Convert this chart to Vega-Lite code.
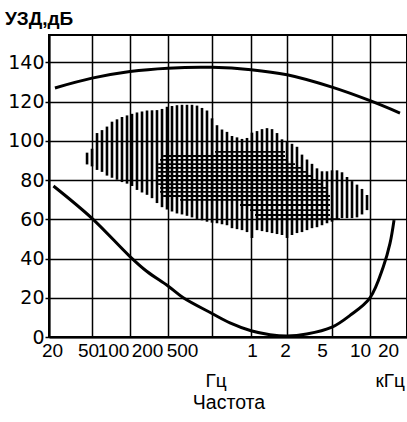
{
  "$schema": "https://vega.github.io/schema/vega-lite/v6.json",
  "autosize": {"type": "none"},
  "padding": {"left": 49, "top": 35, "right": 0, "bottom": 85},
  "width": 358,
  "height": 302,
  "title": {"text": "УЗД,дБ", "anchor": "start", "frame": "group", "dx": -44, "offset": 6, "fontSize": 19, "fontWeight": "bold", "color": "black", "font": "Liberation Sans"},
  "datasets": {
    "music": [
      {"f": 45, "lo": 88, "hi": 94}, {"f": 50, "lo": 87, "hi": 96}, {"f": 54.8, "lo": 85.2, "hi": 104},
      {"f": 60, "lo": 84.2, "hi": 105.5}, {"f": 65.7, "lo": 82.3, "hi": 107.3}, {"f": 72, "lo": 81.2, "hi": 109.8},
      {"f": 78.9, "lo": 80.2, "hi": 111}, {"f": 86.4, "lo": 79, "hi": 112.2}, {"f": 94.7, "lo": 78.2, "hi": 113},
      {"f": 103.7, "lo": 77, "hi": 113.8}, {"f": 113.6, "lo": 75, "hi": 114.5}, {"f": 124.5, "lo": 73.7, "hi": 115},
      {"f": 136.4, "lo": 72.5, "hi": 115.5}, {"f": 149.4, "lo": 70.8, "hi": 115.6}, {"f": 163.6, "lo": 68.3, "hi": 115.7},
      {"f": 179.3, "lo": 66.2, "hi": 116.3}, {"f": 196.4, "lo": 65, "hi": 117.4}, {"f": 217.4, "lo": 64, "hi": 117.8},
      {"f": 241.1, "lo": 63, "hi": 118.2}, {"f": 267.7, "lo": 62.5, "hi": 118.4}, {"f": 297, "lo": 61.8, "hi": 118.4},
      {"f": 329.7, "lo": 61, "hi": 118.4}, {"f": 365.9, "lo": 60.2, "hi": 118}, {"f": 406, "lo": 59.5, "hi": 116.8},
      {"f": 450.5, "lo": 58.8, "hi": 115.5}, {"f": 500, "lo": 58.3, "hi": 111.5}, {"f": 546.4, "lo": 58, "hi": 108},
      {"f": 597.2, "lo": 57.5, "hi": 105.8}, {"f": 652.6, "lo": 57, "hi": 104.6}, {"f": 713.3, "lo": 55.5, "hi": 102.5},
      {"f": 779.8, "lo": 55, "hi": 101.8}, {"f": 852.2, "lo": 54.5, "hi": 101}, {"f": 931.5, "lo": 53.5, "hi": 101.5},
      {"f": 1019, "lo": 50.5, "hi": 104.2}, {"f": 1123, "lo": 54.5, "hi": 105}, {"f": 1236, "lo": 54, "hi": 106},
      {"f": 1361, "lo": 53.5, "hi": 106.5}, {"f": 1499, "lo": 53, "hi": 106}, {"f": 1650, "lo": 52.5, "hi": 104},
      {"f": 1816, "lo": 52, "hi": 100.8}, {"f": 2000, "lo": 50.5, "hi": 99.5}, {"f": 2214, "lo": 52, "hi": 98.5},
      {"f": 2451, "lo": 53, "hi": 97}, {"f": 2714, "lo": 53.5, "hi": 93}, {"f": 3005, "lo": 54.5, "hi": 90.5},
      {"f": 3327, "lo": 55.5, "hi": 88.3}, {"f": 3683, "lo": 56, "hi": 86}, {"f": 4079, "lo": 57, "hi": 84.5},
      {"f": 4515, "lo": 58, "hi": 84.5}, {"f": 5000, "lo": 58.8, "hi": 85}, {"f": 5478, "lo": 59.7, "hi": 85},
      {"f": 6001, "lo": 60.6, "hi": 84}, {"f": 6575, "lo": 60.6, "hi": 81.6}, {"f": 7203, "lo": 60.6, "hi": 79.5},
      {"f": 7888, "lo": 61, "hi": 77.7}, {"f": 8643, "lo": 62.5, "hi": 75.5}, {"f": 9469, "lo": 64.7, "hi": 72.4}
    ],
    "speech": [
      {"db": 94.4, "f0": 527, "f1": 1925}, {"db": 92.3, "f0": 183, "f1": 1925}, {"db": 90.3, "f0": 173, "f1": 2041},
      {"db": 88.2, "f0": 167, "f1": 2354}, {"db": 86.2, "f0": 167, "f1": 2714}, {"db": 84.2, "f0": 164, "f1": 3067},
      {"db": 82.1, "f0": 164, "f1": 3396}, {"db": 80.1, "f0": 164, "f1": 3759}, {"db": 78.0, "f0": 167, "f1": 4079},
      {"db": 76.0, "f0": 173, "f1": 4424}, {"db": 74.0, "f0": 173, "f1": 4609}, {"db": 71.9, "f0": 183, "f1": 4800},
      {"db": 69.9, "f0": 257, "f1": 4800}, {"db": 67.3, "f0": 822, "f1": 4800}, {"db": 64.7, "f0": 983, "f1": 4800},
      {"db": 62.2, "f0": 1080, "f1": 4800}, {"db": 60.1, "f0": 1123, "f1": 5785}
    ],
    "curves": [
      {"curve": "pain", "f": 22.7, "db": 127}, {"curve": "pain", "f": 50, "db": 132}, {"curve": "pain", "f": 100, "db": 135.4},
      {"curve": "pain", "f": 200, "db": 137.1}, {"curve": "pain", "f": 500, "db": 137.5}, {"curve": "pain", "f": 1000, "db": 136.3},
      {"curve": "pain", "f": 2000, "db": 133.7}, {"curve": "pain", "f": 5000, "db": 127.4}, {"curve": "pain", "f": 10000, "db": 120.5},
      {"curve": "pain", "f": 17280, "db": 114.2},
      {"curve": "hearing", "f": 22, "db": 77}, {"curve": "hearing", "f": 50, "db": 60.5}, {"curve": "hearing", "f": 100, "db": 41},
      {"curve": "hearing", "f": 135.6, "db": 33.5}, {"curve": "hearing", "f": 200, "db": 26}, {"curve": "hearing", "f": 275, "db": 20},
      {"curve": "hearing", "f": 500, "db": 12}, {"curve": "hearing", "f": 688, "db": 7.2}, {"curve": "hearing", "f": 1000, "db": 3.2},
      {"curve": "hearing", "f": 1442, "db": 1.2}, {"curve": "hearing", "f": 2000, "db": 0.5}, {"curve": "hearing", "f": 2988, "db": 1.5},
      {"curve": "hearing", "f": 5000, "db": 5}, {"curve": "hearing", "f": 6944, "db": 11}, {"curve": "hearing", "f": 10000, "db": 20},
      {"curve": "hearing", "f": 12750, "db": 35.8}, {"curve": "hearing", "f": 14400, "db": 47.7}, {"curve": "hearing", "f": 15500, "db": 59.6}
    ]
  },
  "layer": [
    {
      "data": {"name": "music"},
      "mark": {"type": "rule", "color": "black", "strokeWidth": 2.6},
      "encoding": {
        "x": {"field": "f", "type": "quantitative",
          "scale": {"type": "log", "domain": [20, 50, 100, 200, 500, 1000, 2000, 5000, 10000, 20000],
                    "range": [0, 43, 81, 119, 163, 202, 238, 283, 321, 359], "nice": false},
          "title": "Частота",
          "axis": {
            "values": [20, 50, 100, 200, 500, 1000, 2000, 5000, 10000, 20000],
            "labelExpr": "datum.value >= 1000 ? '' + (datum.value / 1000) : '' + datum.value",
            "ticks": false, "tickSize": 0, "labelPadding": 4,
            "labelFontSize": 19, "labelFlush": false, "labelOverlap": false, "labelBound": false,
            "labelOffset": {"condition": [
              {"test": "datum.value == 20", "value": 3},
              {"test": "datum.value == 50", "value": -4},
              {"test": "datum.value == 100", "value": -17},
              {"test": "datum.value == 200", "value": -21},
              {"test": "datum.value == 500", "value": -30},
              {"test": "datum.value == 1000", "value": 1},
              {"test": "datum.value == 2000", "value": -2},
              {"test": "datum.value == 5000", "value": -10},
              {"test": "datum.value == 10000", "value": -10},
              {"test": "datum.value == 20000", "value": -20}
            ], "value": 0},
            "titleFontSize": 19.5, "titleFontWeight": "normal", "titlePadding": 33,
            "grid": true
          }
        },
        "y": {"field": "lo", "type": "quantitative",
          "scale": {"domain": [0, 154], "nice": false},
          "title": null,
          "axis": {
            "values": [0, 20, 40, 60, 80, 100, 120, 140],
            "tickSize": 4, "tickWidth": 1.5, "labelPadding": 1,
            "labelFontSize": 19, "labelFont": "DejaVu Sans",
            "grid": true
          }
        },
        "y2": {"field": "hi"}
      }
    },
    {
      "data": {"name": "speech"},
      "mark": {"type": "rule", "color": "black", "strokeWidth": 1.8},
      "encoding": {
        "x": {"field": "f0", "type": "quantitative", "title": "Частота"},
        "x2": {"field": "f1"},
        "y": {"field": "db", "type": "quantitative", "title": null}
      }
    },
    {
      "data": {"name": "curves"},
      "mark": {"type": "line", "color": "black", "strokeWidth": 3, "interpolate": "catmull-rom"},
      "encoding": {
        "x": {"field": "f", "type": "quantitative", "title": "Частота"},
        "y": {"field": "db", "type": "quantitative", "title": null},
        "detail": {"field": "curve"}
      }
    },
    {
      "data": {"values": [{"f": 500, "t": "Гц"}]},
      "mark": {"type": "text", "color": "black", "fontSize": 19, "align": "center", "baseline": "alphabetic", "dx": 4},
      "encoding": {
        "x": {"field": "f", "type": "quantitative", "title": "Частота"},
        "y": {"datum": -25.5, "type": "quantitative", "title": null},
        "text": {"field": "t"}
      }
    },
    {
      "data": {"values": [{"f": 20000, "t": "кГц"}]},
      "mark": {"type": "text", "color": "black", "fontSize": 19, "align": "right", "baseline": "alphabetic", "dx": -3},
      "encoding": {
        "x": {"field": "f", "type": "quantitative", "title": "Частота"},
        "y": {"datum": -25.5, "type": "quantitative", "title": null},
        "text": {"field": "t"}
      }
    }
  ],
  "config": {
    "font": "Liberation Sans",
    "view": {"stroke": "black", "strokeWidth": 2},
    "axis": {"gridColor": "black", "gridWidth": 1.5, "gridOpacity": 1, "domainColor": "black", "domainWidth": 2, "tickColor": "black", "labelColor": "black", "titleColor": "black"}
  }
}
